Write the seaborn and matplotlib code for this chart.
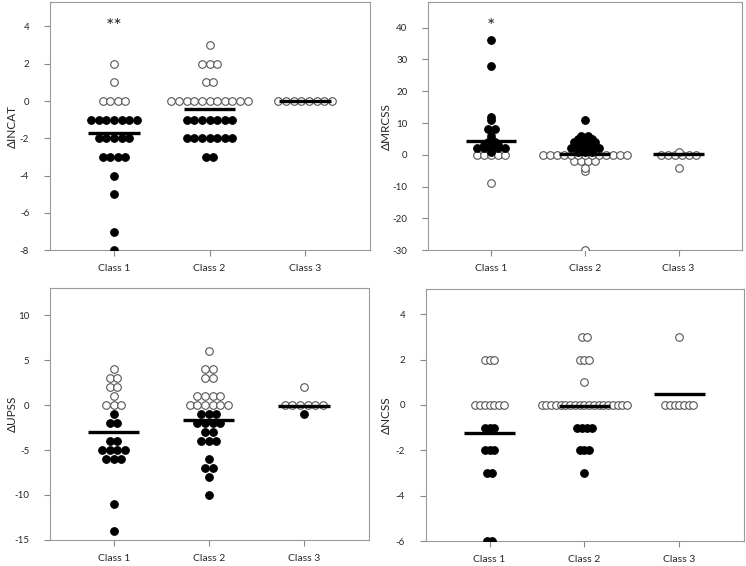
import numpy as np
import pandas as pd
import matplotlib
matplotlib.use("Agg")
import matplotlib.pyplot as plt
import seaborn as sns

sns.set_style("white")
plt.rcParams['font.family'] = ['Lato', 'DejaVu Sans']
plt.rcParams['axes.unicode_minus'] = False

classes = ["Class 1", "Class 2", "Class 3"]

# ---- INCAT ----
incat_c1 = [2, 1, 0, 0, 0, 0, -1, -1, -1, -1, -1, -1, -1, -2, -2, -2, -2, -2,
            -3, -3, -3, -3, -4, -5, -7, -8]
incat_c2 = [3, 2, 2, 2, 1, 1, 0, 0, 0, 0, 0, 0, 0, 0, 0, 0, 0,
            -1, -1, -1, -1, -1, -1, -1, -2, -2, -2, -2, -2, -2, -2, -3, -3]
incat_c3 = [0, 0, 0, 0, 0, 0, 0, 0]
incat_means = [-1.7, -0.4, 0.0]

# ---- MRCSS ----
mrcss_c1 = [36, 28, 12, 11, 8, 8, 6, 4, 4, 3, 3, 3, 2, 2, 2, 2, 2, 1,
            0, 0, 0, 0, 0, -9]
mrcss_c2 = [11, 6, 6, 5, 5, 5, 4, 4, 4, 4, 3, 3, 3, 2, 2, 2, 2, 2, 1, 1, 1,
            0, 0, 0, 0, 0, 0, 0, 0, 0, 0, 0, 0, 0, -2, -2, -2, -2, -4, -5, -30]
mrcss_c3 = [1, 0, 0, 0, 0, 0, 0, -4]
mrcss_means = [4.5, 0.2, 0.3]

# ---- UPSS ----
upss_c1 = [4, 3, 3, 2, 2, 1, 0, 0, 0, -1, -2, -2, -4, -4, -5, -5, -5, -5,
           -6, -6, -6, -11, -14]
upss_c2 = [6, 4, 4, 3, 3, 1, 1, 1, 1, 0, 0, 0, 0, 0, 0, -1, -1, -1,
           -2, -2, -2, -2, -3, -3, -4, -4, -4, -6, -7, -7, -8, -10]
upss_c3 = [2, 0, 0, 0, 0, 0, 0, -1]
upss_means = [-3.0, -1.7, -0.1]

# ---- NCSS ----
ncss_c1 = [2, 2, 2, 0, 0, 0, 0, 0, 0, 0, -1, -1, -1, -2, -2, -2, -3, -3, -6, -6]
ncss_c2 = [3, 3, 2, 2, 2, 1, 0, 0, 0, 0, 0, 0, 0, 0, 0, 0, 0, 0, 0, 0, 0, 0, 0, 0, 0,
           -1, -1, -1, -1, -2, -2, -2, -3]
ncss_c3 = [3, 0, 0, 0, 0, 0, 0, 0]
ncss_means = [-1.25, -0.05, 0.5]


def dot_layout(groups, step, filled_if):
    rows = []
    for i, vals in enumerate(groups):
        vals = np.array(vals)
        for v in np.unique(vals):
            n = int((vals == v).sum())
            offs = (np.arange(n) - (n - 1) / 2) * step
            for o in offs:
                rows.append({"x": i + o, "y": v, "filled": bool(filled_if(i, v))})
    return pd.DataFrame(rows)


panels = [
    ([incat_c1, incat_c2, incat_c3], incat_means, "ΔINCAT", (-8, 5.3), np.arange(-8, 5, 2),
     0.08, lambda i, v: v < 0, [0.067, 0.558, 0.429, 0.438], ("**", 3.98), -0.118),
    ([mrcss_c1, mrcss_c2, mrcss_c3], mrcss_means, "ΔMRCSS", (-30, 48), np.arange(-30, 41, 10),
     0.075, lambda i, v: v > 0 and i < 2, [0.574, 0.558, 0.421, 0.438], ("*", 40.4), -0.133),
    ([upss_c1, upss_c2, upss_c3], upss_means, "ΔUPSS", (-15, 13), np.arange(-15, 11, 5),
     0.08, lambda i, v: v < 0, [0.067, 0.046, 0.427, 0.445], None, -0.118),
    ([ncss_c1, ncss_c2, ncss_c3], ncss_means, "ΔNCSS", (-6, 5.1), np.arange(-6, 5, 2),
     0.05, lambda i, v: v < 0, [0.571, 0.044, 0.426, 0.445], None, -0.125),
]

fig = plt.figure(figsize=(7.46, 5.66), dpi=100)

for groups, means, label, ylim, yticks, step, rule, pos, star, lab_x in panels:
    ax = fig.add_axes(pos)
    df = dot_layout(groups, step, rule)
    sns.scatterplot(data=df[~df.filled], x="x", y="y", color="white", edgecolor="#555555",
                    linewidth=0.8, s=30, ax=ax, zorder=3)
    sns.scatterplot(data=df[df.filled], x="x", y="y", color="black", edgecolor="black",
                    linewidth=0.8, s=30, ax=ax, zorder=4)
    for i, m in enumerate(means):
        ax.hlines(m, i - 0.27, i + 0.27, color="black", linewidth=2.4, zorder=5)
    ax.set_xlim(-0.67, 2.68)
    ax.set_ylim(*ylim)
    ax.set_yticks(yticks)
    ax.set_xticks([0, 1, 2])
    ax.set_xticklabels(classes)
    ax.set_xlabel("")
    ax.set_ylabel(label, fontsize=8.5, va="center")
    ax.yaxis.set_label_coords(lab_x, 0.5)
    ax.tick_params(axis="both", length=4, width=0.8, color="#888888", labelsize=7.5,
                   left=True, bottom=True, direction="out")
    ax.tick_params(axis="y", pad=11, labelsize=7)
    ax.tick_params(axis="x", pad=6)
    for sp in ax.spines.values():
        sp.set_color("#9a9a9a")
        sp.set_linewidth(0.8)
    if star is not None:
        ax.text(0, star[1], star[0], ha="center", va="center", fontsize=14)

fig.savefig("out.png", dpi=100)
